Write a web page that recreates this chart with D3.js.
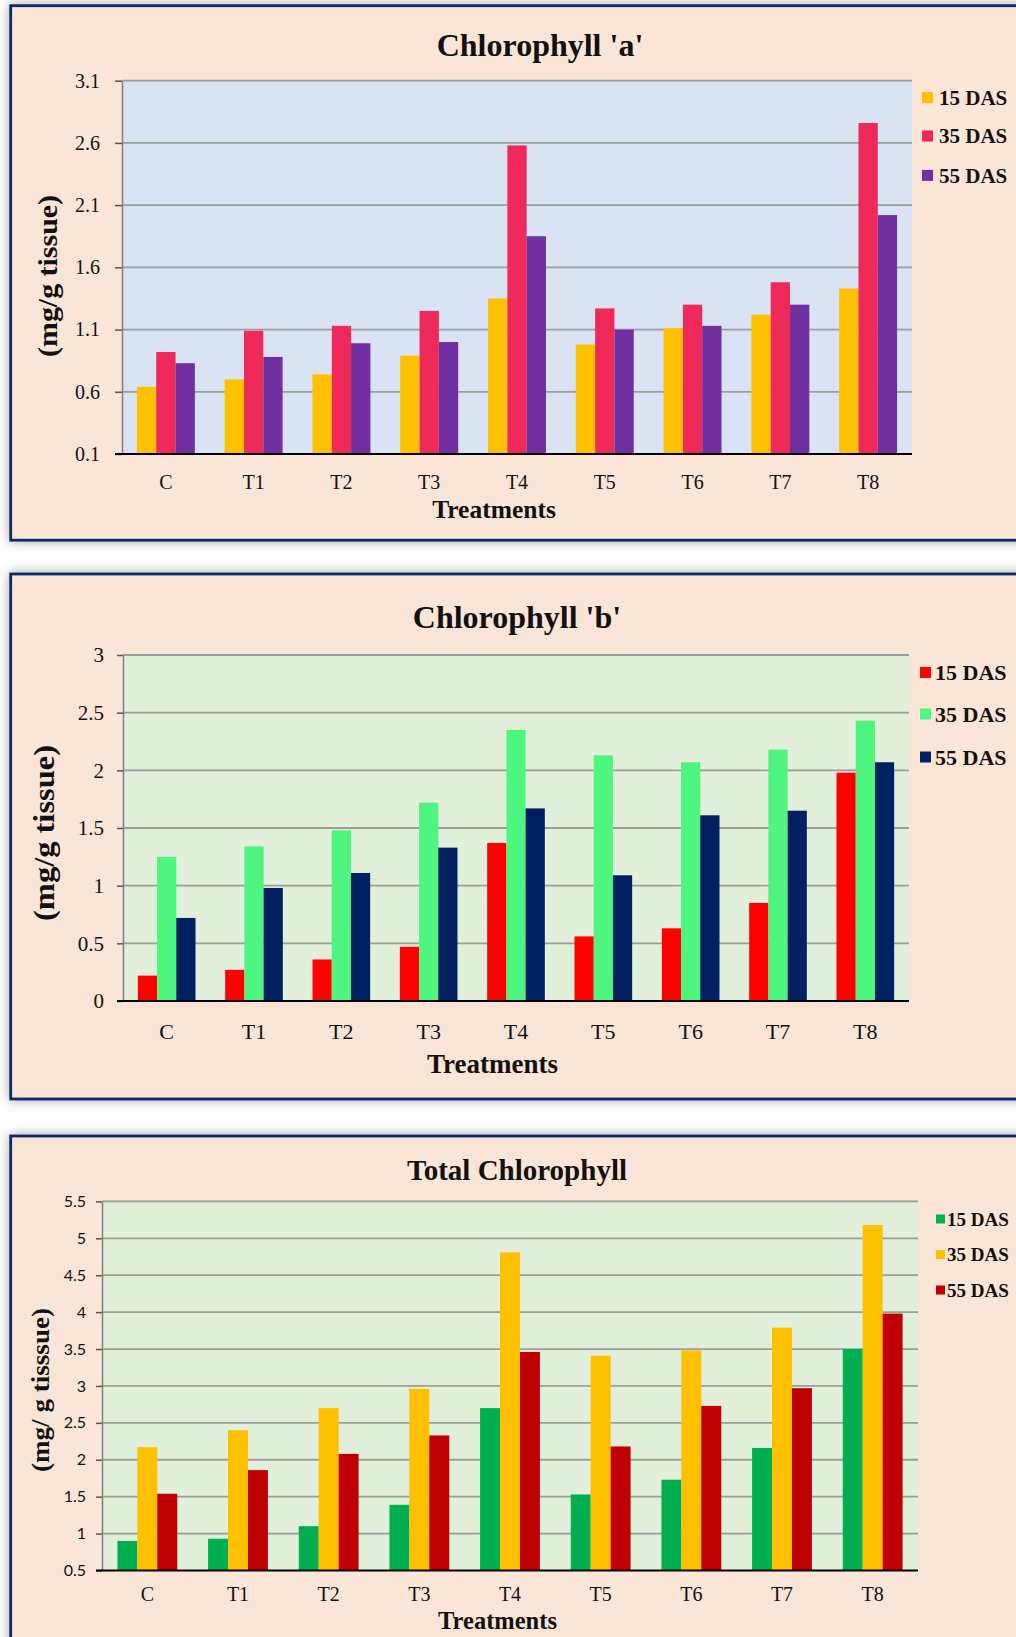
<!DOCTYPE html>
<html>
<head>
<meta charset="utf-8">
<script src="https://cdn.jsdelivr.net/npm/d3@7"></script>
<style>
  html, body { margin: 0; padding: 0; background: #fff; }
  svg { display: block; }
  text { font-family: "Liberation Serif", "Times New Roman", serif; fill: #111; }
</style>
</head>
<body>
<svg id="chart" width="1016" height="1637"></svg>
<script>
// treatments on the x axis
const categories = ["C", "T1", "T2", "T3", "T4", "T5", "T6", "T7", "T8"];
const seriesNames = ["15 DAS", "35 DAS", "55 DAS"];

// chlorophyll 'a' (mg/g tissue)
const chlA15 = [0.64, 0.70, 0.74, 0.89, 1.35, 0.98, 1.11, 1.22, 1.43];
const chlA35 = [0.92, 1.09, 1.13, 1.25, 2.58, 1.27, 1.30, 1.48, 2.76];
const chlA55 = [0.83, 0.88, 0.99, 1.00, 1.85, 1.10, 1.13, 1.30, 2.02];
const ticksA = [0.1, 0.6, 1.1, 1.6, 2.1, 2.6, 3.1];

// chlorophyll 'b'
const chlB15 = [0.22, 0.27, 0.36, 0.47, 1.37, 0.56, 0.63, 0.85, 1.98];
const chlB35 = [1.25, 1.34, 1.48, 1.72, 2.35, 2.13, 2.07, 2.18, 2.43];
const chlB55 = [0.72, 0.98, 1.11, 1.33, 1.67, 1.09, 1.61, 1.65, 2.07];
const ticksB = [0, 0.5, 1, 1.5, 2, 2.5, 3];

// total chlorophyll
const tot15 = [0.90, 0.93, 1.10, 1.39, 2.70, 1.53, 1.73, 2.16, 3.50];
const tot35 = [2.17, 2.40, 2.70, 2.96, 4.81, 3.41, 3.48, 3.79, 5.18];
const tot55 = [1.54, 1.86, 2.08, 2.33, 3.46, 2.18, 2.73, 2.97, 3.98];
const ticksT = [0.5, 1, 1.5, 2, 2.5, 3, 3.5, 4, 4.5, 5, 5.5];

const svg = d3.select("#chart");

// drop shadow for the panels
const defs = svg.append("defs");
defs.append("filter").attr("id", "shadow")
  .attr("x", "-5%").attr("y", "-5%").attr("width", "110%").attr("height", "110%")
  .append("feDropShadow")
  .attr("dx", 0).attr("dy", 0).attr("stdDeviation", 6)
  .attr("flood-color", "#000").attr("flood-opacity", 0.35);

// layout for each panel (positions only)
const panels = [
  {
    box: [10.7, 5.7, 1100, 534.5],
    plot: {l: 122, r: 912, t: 80.7, b: 454},
    domain: [0.1, 3.1], ticks: ticksA, fmt: d3.format(".1f"),
    values: [chlA15, chlA35, chlA55],
    colors: ["#FFC000", "#EF2A5B", "#7030A0"],
    bg: "#DAE3F3",
    tickFont: {family: "Liberation Serif", size: 20, pad: 15, len: 7},
    title: {text: "Chlorophyll 'a'", x: 540, y: 56, size: 32},
    xlab: {y: 489, size: 20},
    xtitle: {x: 494, y: 518, size: 25.5},
    ylab: {text: "(mg/g tissue)", x: 50, y: 276, len: 162, size: 27},
    legend: {x: 922, tx: 939, ys: [97.5, 136, 175.4], sq: 11, size: 21}
  },
  {
    box: [10.7, 574, 1100, 525],
    plot: {l: 123, r: 909, t: 655, b: 1001},
    domain: [0, 3], ticks: ticksB, fmt: d3.format(""),
    values: [chlB15, chlB35, chlB55],
    colors: ["#FF0000", "#4EF57E", "#002060"],
    bg: "#E2EFDA",
    tickFont: {family: "Liberation Serif", size: 21, pad: 13, len: 6},
    title: {text: "Chlorophyll 'b'", x: 517, y: 628, size: 32},
    xlab: {y: 1039, size: 22},
    xtitle: {x: 492.5, y: 1073, size: 27},
    ylab: {text: "(mg/g tissue)", x: 46, y: 833, len: 176, size: 29},
    legend: {x: 920, tx: 935, ys: [672.5, 714, 757], sq: 11, size: 22}
  },
  {
    box: [10.7, 1136, 1100, 600],
    plot: {l: 102, r: 918, t: 1201.4, b: 1570.5},
    domain: [0.5, 5.5], ticks: ticksT, fmt: d3.format(""),
    values: [tot15, tot35, tot55],
    colors: ["#00B050", "#FFC000", "#C00000"],
    bg: "#E2EFDA",
    tickFont: {family: "Lato", size: 16, pad: 10, len: 6},
    title: {text: "Total Chlorophyll", x: 517, y: 1180, size: 29},
    xlab: {y: 1601, size: 20},
    xtitle: {x: 497.5, y: 1629, size: 24.5},
    ylab: {text: "(mg/ g tisssue)", x: 42, y: 1390, len: 164, size: 25},
    legend: {x: 936, tx: 947, ys: [1219, 1254.5, 1290], sq: 9, size: 19}
  }
];

panels.forEach(p => {
  const g = svg.append("g");

  g.append("rect")
    .attr("x", p.box[0]).attr("y", p.box[1])
    .attr("width", p.box[2]).attr("height", p.box[3])
    .attr("fill", "#FBE5D6")
    .attr("stroke", "#102A66").attr("stroke-width", 2.8)
    .attr("filter", "url(#shadow)");

  const {l, r, t, b} = p.plot;
  const y = d3.scaleLinear().domain(p.domain).range([b, t]);
  const x0 = d3.scaleBand().domain(categories).range([l, r])
    .paddingInner(0.34).paddingOuter(0.17);
  const x1 = d3.scaleBand().domain(seriesNames).range([0, x0.bandwidth()]);

  g.append("rect")
    .attr("x", l).attr("y", t).attr("width", r - l).attr("height", b - t)
    .attr("fill", p.bg);

  // gridlines
  g.append("g").selectAll("line")
    .data(p.ticks.slice(1))
    .join("line")
    .attr("x1", l).attr("x2", r)
    .attr("y1", d => y(d)).attr("y2", d => y(d))
    .attr("stroke", "#9C9C9C").attr("stroke-width", 1.8);

  // bars
  const rows = categories.map((c, i) => ({cat: c, vals: seriesNames.map((s, k) => ({s, v: p.values[k][i], k}))}));
  g.append("g").selectAll("g")
    .data(rows)
    .join("g")
    .attr("transform", d => `translate(${x0(d.cat)},0)`)
    .selectAll("rect")
    .data(d => d.vals)
    .join("rect")
    .attr("x", d => x1(d.s))
    .attr("width", x1.bandwidth())
    .attr("y", d => y(d.v))
    .attr("height", d => y(p.domain[0]) - y(d.v))
    .attr("fill", d => p.colors[d.k]);

  // y axis
  const ya = g.append("g")
    .attr("transform", `translate(${l},0)`)
    .call(d3.axisLeft(y).tickValues(p.ticks).tickFormat(p.fmt)
      .tickSize(p.tickFont.len).tickSizeOuter(0).tickPadding(p.tickFont.pad));
  ya.select(".domain").attr("stroke", "#7F7F7F").attr("stroke-width", 1.5);
  ya.selectAll(".tick line").attr("stroke", "#555").attr("stroke-width", 1.5);
  ya.selectAll(".tick text")
    .style("font-family", `"${p.tickFont.family}", serif`)
    .style("font-size", p.tickFont.size + "px")
    .attr("fill", "#222");

  // x axis line
  g.append("line")
    .attr("x1", l - p.tickFont.len).attr("x2", r)
    .attr("y1", y(p.domain[0])).attr("y2", y(p.domain[0]))
    .attr("stroke", "#000").attr("stroke-width", 2);

  // x category labels
  g.append("g").selectAll("text")
    .data(categories)
    .join("text")
    .attr("x", d => x0(d) + x0.bandwidth() / 2)
    .attr("y", p.xlab.y)
    .attr("text-anchor", "middle")
    .style("font-size", p.xlab.size + "px")
    .text(d => d);

  // axis titles
  g.append("text")
    .attr("x", p.xtitle.x).attr("y", p.xtitle.y)
    .attr("text-anchor", "middle")
    .style("font-size", p.xtitle.size + "px")
    .style("font-weight", "bold")
    .text("Treatments");

  g.append("text")
    .attr("transform", `translate(${p.ylab.x},${p.ylab.y}) rotate(-90)`)
    .attr("text-anchor", "middle")
    .attr("dy", "0.26em")
    .attr("textLength", p.ylab.len)
    .attr("lengthAdjust", "spacingAndGlyphs")
    .style("font-size", p.ylab.size + "px")
    .style("font-weight", "bold")
    .text(p.ylab.text);

  // chart title
  g.append("text")
    .attr("x", p.title.x).attr("y", p.title.y)
    .attr("text-anchor", "middle")
    .style("font-size", p.title.size + "px")
    .style("font-weight", "bold")
    .text(p.title.text);

  // legend
  const lg = g.append("g").selectAll("g")
    .data(seriesNames)
    .join("g")
    .attr("transform", (d, i) => `translate(0,${p.legend.ys[i]})`);
  lg.append("rect")
    .attr("x", p.legend.x).attr("y", -p.legend.sq / 2)
    .attr("width", p.legend.sq).attr("height", p.legend.sq)
    .attr("fill", (d, i) => p.colors[i]);
  lg.append("text")
    .attr("x", p.legend.tx).attr("dy", "0.35em")
    .style("font-size", p.legend.size + "px")
    .style("font-weight", "bold")
    .text(d => d);
});
</script>
</body>
</html>
